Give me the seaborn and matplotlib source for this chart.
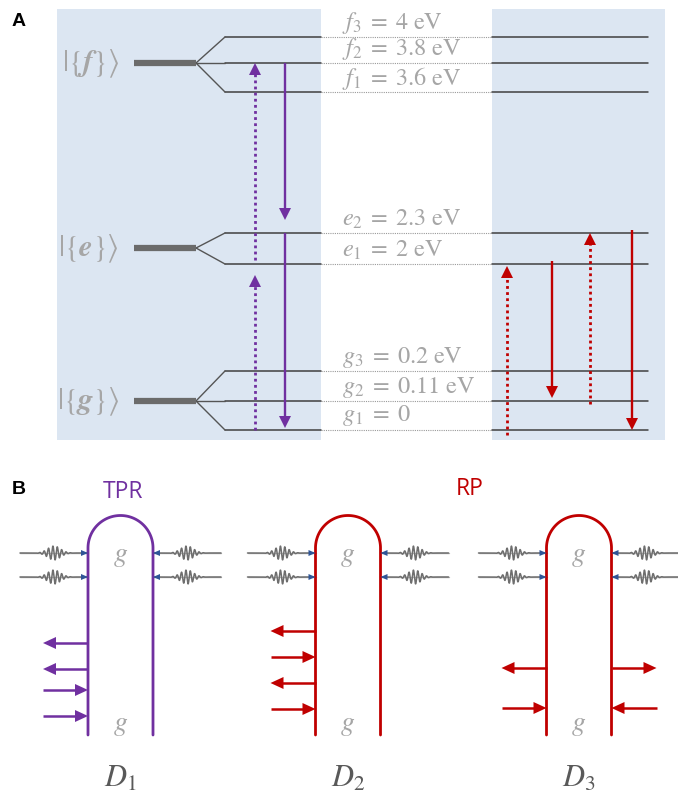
import numpy as np
import pandas as pd
import matplotlib
matplotlib.use("Agg")
import matplotlib.pyplot as plt
import seaborn as sns

# ---------------- data ----------------
level_names = ["f3", "f2", "f1", "e2", "e1", "g3", "g2", "g1"]
level_labels = [r"$f_3\;=\;4\ \mathrm{eV}$", r"$f_2\;=\;3.8\ \mathrm{eV}$", r"$f_1\;=\;3.6\ \mathrm{eV}$",
                r"$e_2\;=\;2.3\ \mathrm{eV}$", r"$e_1\;=\;2\ \mathrm{eV}$",
                r"$g_3\;=\;0.2\ \mathrm{eV}$", r"$g_2\;=\;0.11\ \mathrm{eV}$", r"$g_1\;=\;0$"]
level_energy_eV = [4.0, 3.8, 3.6, 2.3, 2.0, 0.2, 0.11, 0.0]
manifold_names = ["f", "e", "g"]
manifold_members = [["f3", "f2", "f1"], ["e2", "e1"], ["g3", "g2", "g1"]]

# transitions: (from, to, kind)
tpr_transitions = [("g1", "e1", "dotted"), ("e1", "f2", "dotted"), ("f2", "e2", "solid"), ("e2", "g1", "solid")]
rp_transitions = [("g1", "e1", "dotted"), ("e1", "g2", "solid"), ("g2", "e2", "dotted"), ("e2", "g1", "solid")]

diagram_names = ["D_1", "D_2", "D_3"]
# field arrows on each side of each diagram: +1 = incoming, -1 = outgoing
d1_left = [-1, -1, 1, 1]
d2_left = [-1, 1, -1, 1]
d3_left = [-1, 1]
d3_right = [-1, 1]

# ---------------- layout (pixel coordinates) ----------------
W, H = 678, 794
level_y = dict(zip(level_names, [37, 63, 92, 233, 264, 371, 401, 430]))
manifold_y = [63, 248, 401]
tpr_x = [255, 255, 285, 285]
tpr_gap = [(0, 11), (-4, 0), (0, 13), (0, 2)]
rp_x = [507, 552, 590, 632]
rp_gap = [(5, 2), (3, 3), (3, 0), (3, 0)]

BLUE_BG = "#dce6f2"
PURPLE = "#7030a0"
RED = "#c00000"
LGRAY = "#a6a6a6"
DGRAY = "#404040"
TXT_GRAY = "#595959"

sns.set_theme(style="white")
plt.rcParams["mathtext.fontset"] = "stix"
plt.rcParams["font.family"] = ["DejaVu Sans"]

fig = plt.figure(figsize=(W / 100, H / 100), dpi=100)
ax = fig.add_axes([0, 0, 1, 1])
fig.patch.set_facecolor("white")


def head(x, y, dx, dy, color, length=12, width=12):
    """filled triangular arrow head with tip at (x, y), pointing along (dx, dy)"""
    n = np.hypot(dx, dy)
    ux, uy = dx / n, dy / n
    px, py = -uy, ux
    bx, by = x - ux * length, y - uy * length
    ax.fill([x, bx + px * width / 2, bx - px * width / 2],
            [y, by + py * width / 2, by - py * width / 2],
            color=color, lw=0, zorder=5)


def arrow(x0, y0, x1, y1, color, ls="-", lw=1.6, length=12, width=12):
    n = np.hypot(x1 - x0, y1 - y0)
    ux, uy = (x1 - x0) / n, (y1 - y0) / n
    ax.plot([x0, x1 - ux * length * 0.8], [y0, y1 - uy * length * 0.8], color=color, ls=ls, lw=lw,
            solid_capstyle="butt", zorder=4)
    head(x1, y1, x1 - x0, y1 - y0, color, length, width)


# ---------------- panel A ----------------
ax.add_patch(plt.Rectangle((57, 9), 264, 431, color=BLUE_BG, lw=0, zorder=0))
ax.add_patch(plt.Rectangle((492, 9), 173, 431, color=BLUE_BG, lw=0, zorder=0))

rows = []
for name in level_names:
    y = level_y[name]
    rows += [dict(level=name, x=225, y=y, seg="left"), dict(level=name, x=321, y=y, seg="left"),
             dict(level=name, x=492, y=y, seg="right"), dict(level=name, x=648, y=y, seg="right")]
levels_df = pd.DataFrame(rows)
for seg, sub in levels_df.groupby("seg"):
    sns.lineplot(data=sub, x="x", y="y", units="level", estimator=None, color=DGRAY, lw=1.1,
                 ax=ax, legend=False, sort=False)
for name in level_names:
    ax.plot([321, 492], [level_y[name]] * 2, color="#9a9a9a", ls=(0, (1, 1)), lw=0.8, zorder=1)

for name, lab in zip(level_names, level_labels):
    ax.text(342, level_y[name] - 14, lab, fontsize=17.5, color=LGRAY, ha="left", va="center")

for mname, members, my in zip(manifold_names, manifold_members, manifold_y):
    ax.plot([134, 196], [my, my], color="#6b6b6b", lw=4.5, solid_capstyle="butt", zorder=3)
    for m in members:
        ax.plot([196, 225], [my, level_y[m]], color="#555555", lw=1.0, zorder=2)
    ax.text(119, my + 1, r"$|\{\boldsymbol{%s}\}\rangle$" % mname, fontsize=22, color=LGRAY,
            ha="right", va="center")

for (a, b, kind), x, (g0, g1) in zip(tpr_transitions, tpr_x, tpr_gap):
    y0, y1 = level_y[a], level_y[b]
    s = np.sign(y1 - y0)
    ls = (0, (1, 1.2)) if kind == "dotted" else "-"
    arrow(x, y0 - s * g0, x, y1 - s * g1, PURPLE, ls=ls, lw=1.7 if kind == "solid" else 2.0)

for (a, b, kind), x, (g0, g1) in zip(rp_transitions, rp_x, rp_gap):
    y0, y1 = level_y[a], level_y[b]
    s = np.sign(y1 - y0)
    ls = (0, (1, 1.2)) if kind == "dotted" else "-"
    arrow(x, y0 - s * g0, x, y1 - s * g1, RED, ls=ls, lw=1.7 if kind == "solid" else 2.0)

ax.text(12, 22, "A", fontsize=14, fontweight="bold", color="black", ha="left", va="center",
        family="Liberation Sans")
ax.text(12, 490, "B", fontsize=14, fontweight="bold", color="black", ha="left", va="center",
        family="Liberation Sans")

# ---------------- panel B ----------------
centers = [120.5, 348, 579]
colors = [PURPLE, RED, RED]
half_w = 32.5
arc_cy = 548
bottom = 735
pulse_y = [553, 577]


def pulse(x_line, y, side):
    # side -1: pulse on the left, travelling right; +1: on the right, travelling left
    far = x_line + side * 68
    xs = np.linspace(min(far, x_line), max(far, x_line), 600)
    xc = x_line + side * 34
    wave = 7 * np.exp(-((xs - xc) / 9.0) ** 2) * np.sin(2 * np.pi * (xs - xc) / 4.4)
    ax.plot(xs, np.full_like(xs, y), color="#b4b4b4", lw=1.0, zorder=2)
    ax.plot(xs, y + wave, color="#6e6e6e", lw=1.1, zorder=3)
    head(x_line, y, -side, 0, "#2f5597", length=7, width=6)


for cx, col, dname in zip(centers, colors, diagram_names):
    t = np.linspace(np.pi, 0, 100)
    xs = np.concatenate([[cx - half_w], cx + half_w * np.cos(t), [cx + half_w]])
    ys = np.concatenate([[bottom], arc_cy - half_w * np.sin(t), [bottom]])
    ax.plot(xs, ys, color=col, lw=2.0, zorder=4)
    for py in pulse_y:
        pulse(cx - half_w, py, -1)
        pulse(cx + half_w, py, 1)
    ax.text(cx, 555, r"$g$", fontsize=20, color=LGRAY, ha="center", va="center")
    ax.text(cx, 724, r"$g$", fontsize=20, color=LGRAY, ha="center", va="center")
    ax.text(cx, 778, r"$%s$" % dname, fontsize=22, color=TXT_GRAY, ha="center", va="center")


def field_arrows(x_line, ys, dirs, side, col):
    for y, d in zip(ys, dirs):
        far = x_line + side * 45
        if d > 0:
            arrow(far, y, x_line, y, col, lw=1.8, length=13)
        else:
            arrow(x_line, y, far, y, col, lw=1.8, length=13)


field_arrows(centers[0] - half_w, [643, 669, 690, 716], d1_left, -1, PURPLE)
field_arrows(centers[1] - half_w, [631, 657, 683, 709], d2_left, -1, RED)
field_arrows(centers[2] - half_w, [668, 708], d3_left, -1, RED)
field_arrows(centers[2] + half_w, [668, 708], d3_right, 1, RED)

ax.text(123, 492, "TPR", fontsize=16.5, color=PURPLE, ha="center", va="center", family="Open Sans")
ax.text(470, 489, "RP", fontsize=16.5, color=RED, ha="center", va="center", family="Open Sans")

ax.set_xlim(0, W)
ax.set_ylim(H, 0)
ax.axis("off")
fig.savefig("out.png", dpi=100, facecolor="white")
